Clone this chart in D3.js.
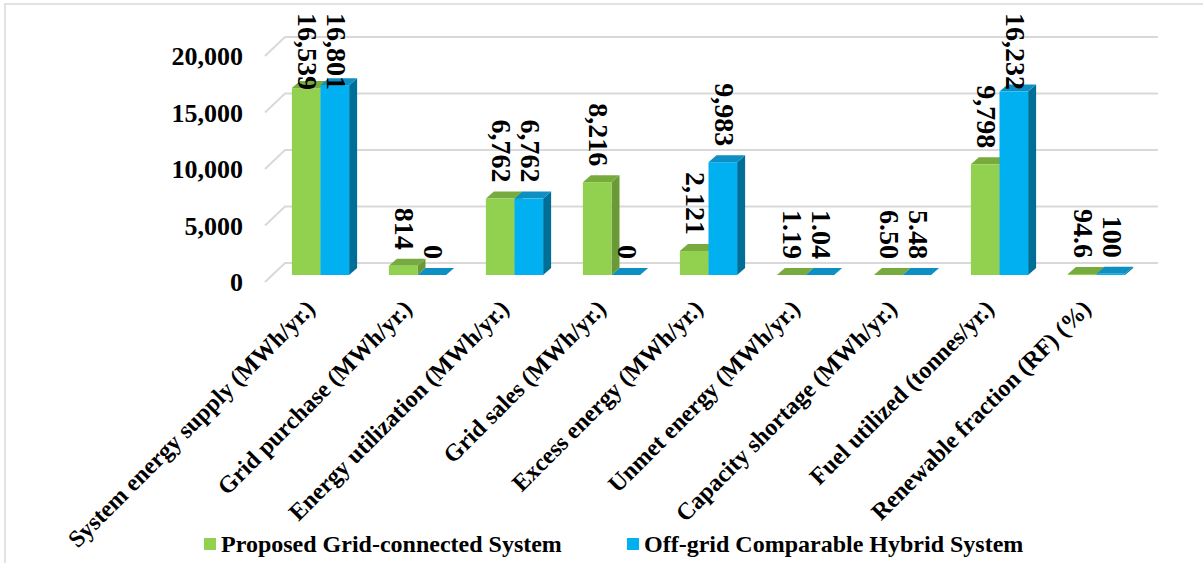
<!DOCTYPE html>
<html>
<head>
<meta charset="utf-8">
<script src="https://cdnjs.cloudflare.com/ajax/libs/d3/7.8.5/d3.min.js"></script>
<style>
  body { margin: 0; background: #fff; }
  text { font-family: "Liberation Serif", "Times New Roman", serif; font-weight: bold; fill: #000; }
</style>
</head>
<body>
<div class="container"></div>
<script>
const width = 1203;
const height = 563;

const categories = [
    'System energy supply (MWh/yr.)',
    'Grid purchase (MWh/yr.)',
    'Energy utilization (MWh/yr.)',
    'Grid sales (MWh/yr.)',
    'Excess energy (MWh/yr.)',
    'Unmet energy (MWh/yr.)',
    'Capacity shortage (MWh/yr.)',
    'Fuel utilized (tonnes/yr.)',
    'Renewable fraction (RF) (%)'
];
const seriesNames = ['Proposed Grid-connected System', 'Off-grid Comparable Hybrid System'];
const proposed = [16539, 814, 6762, 8216, 2121, 1.19, 6.50, 9798, 94.6];
const offgrid = [16801, 0, 6762, 0, 9983, 1.04, 5.48, 16232, 100];
const proposedLabels = ['16,539', '814', '6,762', '8,216', '2,121', '1.19', '6.50', '9,798', '94.6'];
const offgridLabels = ['16,801', '0', '6,762', '0', '9,983', '1.04', '5.48', '16,232', '100'];
const yTicks = [0, 5000, 10000, 15000, 20000];

const colors = [
    { front: '#92d050', top: '#78ab3e', side: '#6a9a36' },
    { front: '#00b0f0', top: '#0d8fc4', side: '#006f98' }
];

// 3d offsets: wall depth, bar position in depth, bar depth
const wall = { dx: 20, dy: 19 };
const barOff = { dx: 7, dy: 7 };
const barDepth = { dx: 8, dy: 7 };

const svg = d3.select('.container')
    .append('svg')
    .attr('width', width)
    .attr('height', height);

svg.append('rect')
    .attr('x', 5).attr('y', 4)
    .attr('width', 1200).attr('height', 570)
    .style('fill', '#fff')
    .style('stroke', '#d9d9d9')
    .style('stroke-width', 1.5);

const y = d3.scaleLinear().domain([0, 20000]).range([282, 56]);
const x0 = d3.scaleBand().domain(categories).range([265, 1138])
    .paddingInner(0.41).paddingOuter(0.205);
const x1 = d3.scaleBand().domain([0, 1]).range([0, x0.bandwidth()]);
const [xL, xR] = x0.range();

// gridlines (left diagonal + back wall)
const grid = svg.append('g');
yTicks.forEach(t => {
    grid.append('path')
        .attr('d', `M${xL},${y(t)} L${xL + wall.dx},${y(t) - wall.dy} L${xR + wall.dx},${y(t) - wall.dy}`)
        .style('fill', 'none')
        .style('stroke', '#d9d9d9')
        .style('stroke-width', 2);
});

svg.append('g').selectAll('text')
    .data(yTicks)
    .join('text')
    .attr('x', 243)
    .attr('y', d => y(d))
    .attr('dy', '0.35em')
    .attr('text-anchor', 'end')
    .style('font-size', '26px')
    .text(d => d3.format(',')(d));

const series = [proposed, offgrid];
const labels = [proposedLabels, offgridLabels];

const bars = [];
categories.forEach((c, i) => {
    series.forEach((vals, s) => {
        const xl = x0(c) + x1(s) + barOff.dx;
        const xr = xl + x1.bandwidth();
        const yb = y(0) - barOff.dy;
        const yt = y(vals[i]) - barOff.dy;
        bars.push({ s, xl, xr, yb, yt, label: labels[s][i] });
    });
});

const G = svg.append('g');
bars.forEach(b => {
    const col = colors[b.s];
    const g = G.append('g');
    g.append('path')
        .attr('d', `M${b.xr},${b.yt} L${b.xr + barDepth.dx},${b.yt - barDepth.dy} L${b.xr + barDepth.dx},${b.yb - barDepth.dy} L${b.xr},${b.yb} Z`)
        .style('fill', col.side);
    g.append('path')
        .attr('d', `M${b.xl},${b.yt} L${b.xr},${b.yt} L${b.xr + barDepth.dx},${b.yt - barDepth.dy} L${b.xl + barDepth.dx},${b.yt - barDepth.dy} Z`)
        .style('fill', col.top);
    g.append('rect')
        .attr('x', b.xl)
        .attr('y', b.yt)
        .attr('width', b.xr - b.xl)
        .attr('height', b.yb - b.yt)
        .style('fill', col.front);
});

// value labels, rotated, clamped to top of plot
const vl = svg.append('g');
bars.forEach(b => {
    const t = vl.append('text')
        .attr('text-anchor', 'end')
        .attr('dy', '0.35em')
        .style('font-size', '28px')
        .text(b.label);
    const len = t.node().getComputedTextLength();
    const yEnd = Math.max(b.yt - 16, 13 + len);
    const cx = (b.xl + b.xr) / 2 + 2;
    t.attr('transform', `translate(${cx},${yEnd}) rotate(90)`);
});

// category labels
svg.append('g').selectAll('text')
    .data(categories)
    .join('text')
    .attr('text-anchor', 'end')
    .style('font-size', '24px')
    .attr('transform', d => `translate(${x0(d) + x0.bandwidth() / 2 + barOff.dx - 4},${310}) rotate(-45)`)
    .text(d => d);

// legend
const legendX = [204, 627];
const legend = svg.append('g');
seriesNames.forEach((n, s) => {
    legend.append('rect')
        .attr('x', legendX[s]).attr('y', 538)
        .attr('width', 12).attr('height', 12)
        .style('fill', colors[s].front);
    legend.append('text')
        .attr('x', legendX[s] + 17)
        .attr('y', 552)
        .style('font-size', '24px')
        .text(n);
});
</script>
</body>
</html>
